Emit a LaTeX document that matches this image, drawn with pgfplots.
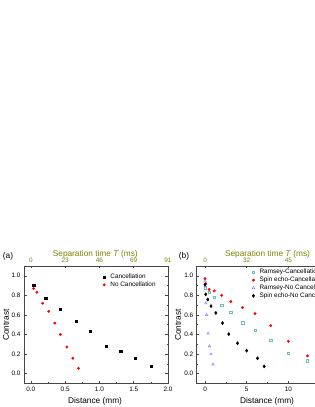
\documentclass[border=0pt]{standalone}
\usepackage{pgfplots}
\pgfplotsset{compat=1.18}
\usepackage{fontspec}
\setmainfont{Liberation Sans}
\definecolor{olivet}{RGB}{128,128,0}
\definecolor{ramc}{RGB}{110,190,190}
\definecolor{ramn}{RGB}{120,120,255}
\definecolor{axc}{RGB}{70,70,70}
\pgfplotsset{
  base/.style={scale only axis, anchor=south west, height=117.3pt,
    ymin=-0.1, ymax=1.1, tick align=inside,
    major tick length=2.5pt, minor tick length=1.4pt,
    axis line style={-,axc,line width=0.6pt},
    every tick/.style={axc,line width=0.5pt},
    tick label style={font=\fontsize{6.4}{7}\selectfont},
    /pgf/number format/assume math mode=true},
  main/.style={base, xtick pos=bottom, ytick pos=both, yticklabel pos=left,
    ytick={0,0.2,0.4,0.6,0.8,1.0}, minor y tick num=1, minor x tick num=1,
    yticklabel style={/pgf/number format/.cd,fixed,fixed zerofill,precision=1},
    legend cell align=left,
    legend style={draw=none, fill=none, inner sep=0pt, row sep=0.3pt,
      font=\fontsize{6.4}{7}\selectfont, nodes={inner sep=0.7pt},
      /tikz/every odd column/.style={column sep=4.2pt}},
    legend image code/.code={\draw[##1] plot coordinates {(0pt,0pt)};}},
  top/.style={base, axis x line*=top, axis y line=none, minor x tick num=1,
    ytick=\empty, xticklabel style={text=olivet}}
}
\begin{document}
\begin{tikzpicture}
\useasboundingbox (0,0) rectangle (315pt,407pt);
% ---------- (a) ----------
\begin{axis}[main, at={(24pt,23.7pt)}, width=144pt, xmin=-0.1, xmax=2.0,
  xtick={0,0.5,1,1.5,2},
  xticklabel style={/pgf/number format/.cd,fixed,fixed zerofill,precision=1},
  legend style={at={(0.548,0.94)}, anchor=north west}]
\addplot[only marks, mark=square*, mark size=1.1pt, black] coordinates {
(0.04,0.904) (0.216,0.77) (0.43,0.661) (0.657,0.533) (0.87,0.437)
(1.093,0.282) (1.309,0.231) (1.525,0.156) (1.75,0.076)};
\addlegendentry{Cancellation}
\addplot[only marks, mark=*, mark size=1.2pt, red] coordinates {
(0.04,0.87) (0.088,0.832) (0.172,0.719) (0.26,0.636) (0.348,0.516)
(0.431,0.399) (0.525,0.272) (0.613,0.156) (0.696,0.053)};
\addlegendentry{No Cancellation}
\end{axis}
\begin{axis}[top, at={(24pt,23.7pt)}, width=144pt, xmin=-0.1, xmax=2.0,
  xtick={0,0.5,1,1.5,2}, xticklabels={0,23,46,69,91}]
\end{axis}
% ---------- (b) ----------
\begin{axis}[main, at={(196.7pt,23.7pt)}, width=141.6pt, xmin=-1, xmax=16,
  xtick={0,5,10},
  legend style={at={(0.39,0.98)}, anchor=north west}]
\addplot[only marks, mark=square, mark size=1.2pt, ramc, line width=0.4pt] coordinates {
(0.05,0.88) (0.5,0.83) (1.1,0.78) (2.0,0.70) (3.1,0.626) (4.5,0.52)
(6.0,0.444) (7.9,0.34) (10.0,0.207) (12.3,0.13)};
\addlegendentry{Ramsey-Cancellation}
\addplot[only marks, mark=*, mark size=1.25pt, red] coordinates {
(0,0.97) (0.08,0.92) (0.5,0.86) (1.1,0.845) (2.0,0.80) (3.1,0.736)
(4.5,0.674) (6.0,0.612) (7.9,0.49) (10.0,0.33) (12.3,0.18)};
\addlegendentry{Spin echo-Cancellation}
\addplot[only marks, mark=triangle, mark size=1.5pt, ramn, line width=0.4pt] coordinates {
(0,0.95) (0.05,0.89) (0.1,0.72) (0.2,0.60) (0.37,0.41) (0.53,0.28)
(0.72,0.197) (0.96,0.094)};
\addlegendentry{Ramsey-No Cancellation}
\addplot[only marks, mark=diamond*, mark size=1.6pt, black] coordinates {
(0,0.91) (0.08,0.81) (0.33,0.757) (0.72,0.69) (1.3,0.62) (2.1,0.516)
(2.85,0.403) (3.9,0.31) (5.0,0.234) (6.3,0.156) (7.1,0.073)};
\addlegendentry{Spin echo-No Cancellation}
\end{axis}
\begin{axis}[top, at={(196.7pt,23.7pt)}, width=141.6pt, xmin=-1, xmax=16,
  xtick={0,5,10}, xticklabels={0,32,45}]
\end{axis}
% ---------- labels ----------
\node[font=\fontsize{8.3}{9}\selectfont] at (8pt,151pt) {(a)};
\node[font=\fontsize{8.3}{9}\selectfont] at (184pt,151pt) {(b)};
\node[font=\fontsize{8.3}{9}\selectfont, text=olivet] at (95.3pt,152.7pt) {Separation time \textit{T} (ms)};
\node[font=\fontsize{8.3}{9}\selectfont, text=olivet] at (267.5pt,152.7pt) {Separation time \textit{T} (ms)};
\node[font=\fontsize{8.3}{9}\selectfont, rotate=90] at (6pt,82pt) {Contrast};
\node[font=\fontsize{8.3}{9}\selectfont, rotate=90] at (178pt,82pt) {Contrast};
\node[font=\fontsize{8.3}{9}\selectfont] at (95pt,6pt) {Distance (mm)};
\node[font=\fontsize{8.3}{9}\selectfont] at (267pt,6pt) {Distance (mm)};
\end{tikzpicture}
\end{document}
